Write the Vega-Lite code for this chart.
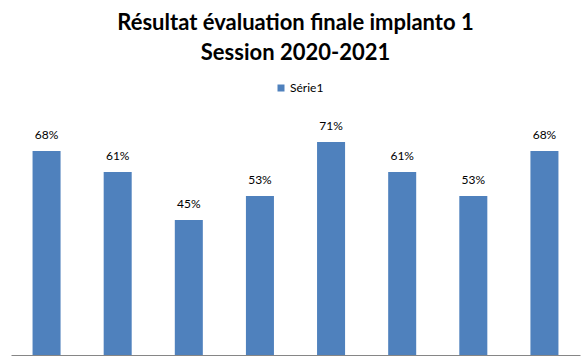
{
  "$schema": "https://vega.github.io/schema/vega-lite/v6.json",
  "width": 569,
  "height": 240,
  "autosize": "none",
  "padding": {"left": 11, "top": 115, "right": 7, "bottom": 5},
  "background": "white",
  "config": {"view": {"stroke": null}, "font": "Lato"},
  "title": {
    "text": ["Résultat évaluation finale implanto 1", "Session 2020-2021"],
    "font": "Lato",
    "fontSize": 22,
    "fontWeight": "bold",
    "color": "#000000",
    "lineHeight": 30,
    "anchor": "middle",
    "offset": 17
  },
  "data": {
    "values": [
      {"cat": "1", "serie": "Série1", "value": 0.68},
      {"cat": "2", "serie": "Série1", "value": 0.61},
      {"cat": "3", "serie": "Série1", "value": 0.45},
      {"cat": "4", "serie": "Série1", "value": 0.53},
      {"cat": "5", "serie": "Série1", "value": 0.71},
      {"cat": "6", "serie": "Série1", "value": 0.61},
      {"cat": "7", "serie": "Série1", "value": 0.53},
      {"cat": "8", "serie": "Série1", "value": 0.68}
    ]
  },
  "encoding": {
    "x": {
      "field": "cat",
      "type": "nominal",
      "sort": null,
      "scale": {"paddingInner": 0.606, "paddingOuter": 0.303},
      "axis": {"title": null, "labels": false, "ticks": false, "domainColor": "#868686", "domainWidth": 1}
    },
    "y": {
      "field": "value",
      "type": "quantitative",
      "scale": {"domain": [0, 0.8]},
      "axis": null
    }
  },
  "layer": [
    {
      "mark": {"type": "bar", "color": "#4F81BD"},
      "encoding": {
        "color": {
          "field": "serie",
          "type": "nominal",
          "scale": {"range": ["#4F81BD"]},
          "legend": {
            "title": null,
            "orient": "none",
            "legendX": 264,
            "legendY": -33,
            "symbolType": "square",
            "symbolSize": 49,
            "symbolStrokeWidth": 0,
            "labelFontSize": 12,
            "labelColor": "#000000",
            "labelFont": "Lato",
            "labelOffset": 3
          }
        }
      }
    },
    {
      "mark": {"type": "text", "baseline": "bottom", "dy": -9, "fontSize": 12, "color": "#000000", "font": "Lato"},
      "encoding": {
        "text": {"field": "value", "type": "quantitative", "format": ".0%"}
      }
    }
  ]
}
